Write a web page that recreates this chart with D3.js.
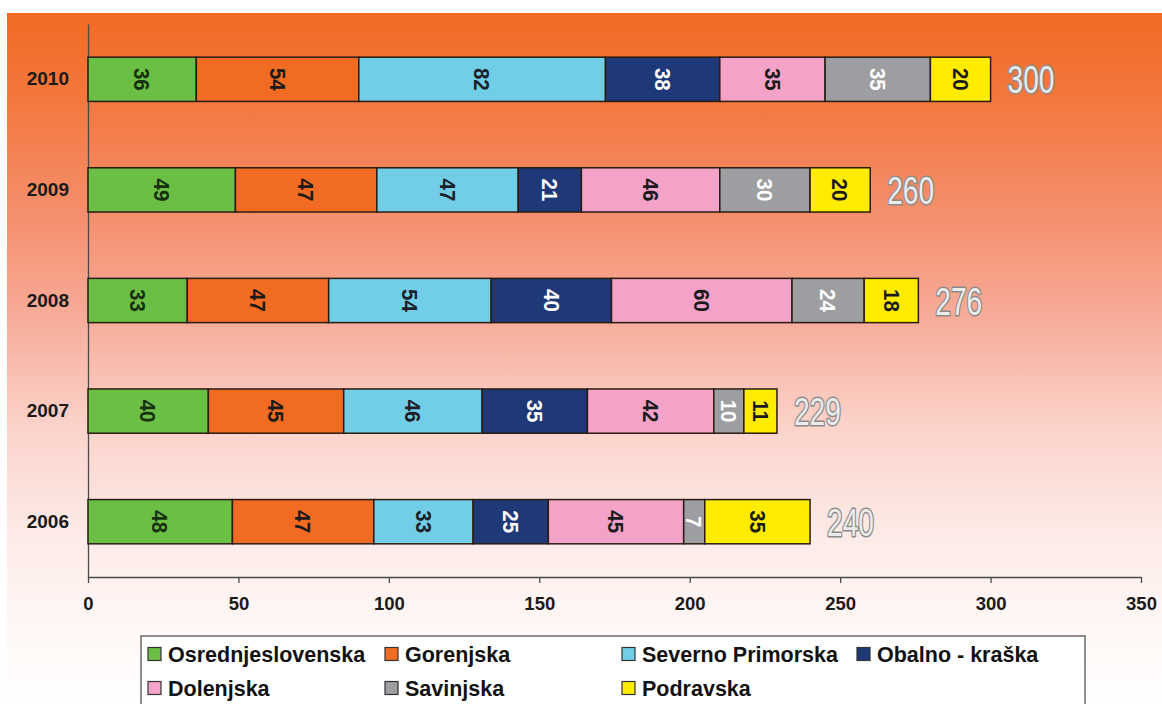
<!DOCTYPE html>
<html><head><meta charset="utf-8">
<script src="https://cdn.jsdelivr.net/npm/d3@7"></script>
<style>
html,body{margin:0;padding:0;background:#fff;}
svg{display:block;font-family:"Liberation Sans",Arial,sans-serif;}
</style></head>
<body><svg id="c" width="1162" height="704"></svg>
<script>
const years = ["2010","2009","2008","2007","2006"];
const regions = ["Osrednjeslovenska","Gorenjska","Severno Primorska","Obalno - kraška","Dolenjska","Savinjska","Podravska"];
const osrednjeslovenska = [36,49,33,40,48];
const gorenjska        = [54,47,47,45,47];
const severnoPrimorska = [82,47,54,46,33];
const obalnoKraska     = [38,21,40,35,25];
const dolenjska        = [35,46,60,42,45];
const savinjska        = [35,30,24,10,7];
const podravska        = [20,20,18,11,35];
const totals           = [300,260,276,229,240];
const xTicks = [0,50,100,150,200,250,300,350];

const seriesValues = [osrednjeslovenska,gorenjska,severnoPrimorska,obalnoKraska,dolenjska,savinjska,podravska];
const colors = ["#6cbf45","#f26b22","#72cde6","#1f3877","#f4a2c8","#9c9ea1","#ffec00"];
const labelColors = ["#17300f","#1a1a1a","#1a1f2a","#ffffff","#1a1a1a","#ffffff","#1a1a1a"];

const svg = d3.select("#c");
const defs = svg.append("defs");
const grad = defs.append("linearGradient").attr("id","bg").attr("x1",0).attr("y1",0).attr("x2",0).attr("y2",1);
[[0,"#f26a22"],[0.12,"#f3773d"],[0.3,"#f5906f"],[0.45,"#f7ae9c"],[0.6,"#fbd3cb"],[0.75,"#fdeae6"],[0.88,"#fff7f5"],[1,"#ffffff"]]
  .forEach(([o,c])=>grad.append("stop").attr("offset",o).attr("stop-color",c));

svg.append("rect").attr("x",7).attr("y",13).attr("width",1155).attr("height",691).attr("fill","url(#bg)");

const x = d3.scaleLinear().domain([0,350]).range([88,1141]);
const y = d3.scaleBand().domain(years).range([24,577]).paddingInner(0.6).paddingOuter(0.3);

const rows = years.map((yr,i)=>{
  const o = {year:yr};
  regions.forEach((r,j)=>o[r]=seriesValues[j][i]);
  return o;
});
const stack = d3.stack().keys(regions)(rows);

// axes
const xAxis = d3.axisBottom(x).tickValues(xTicks).tickSize(6).tickSizeOuter(0).tickFormat(d3.format("d"));
const gx = svg.append("g").attr("transform","translate(0,577)").call(xAxis);
gx.select(".domain").attr("stroke","#4a4a4a").attr("stroke-width",1.3);
gx.selectAll(".tick line").attr("stroke","#4a4a4a").attr("stroke-width",1.3);
gx.selectAll(".tick text").attr("fill","#1a1a1a").attr("font-size",18.5).attr("font-weight","bold").attr("dy","1.3em");

const yAxis = d3.axisLeft(y).tickSize(0).tickPadding(19);
const gy = svg.append("g").attr("transform","translate(88,0)").call(yAxis);
gy.select(".domain").attr("stroke","#4a4a4a").attr("stroke-width",1.3);
gy.selectAll(".tick text").attr("fill","#1a1a1a").attr("font-size",19).attr("font-weight","bold");

// bars
const layers = svg.append("g").selectAll("g").data(stack).join("g");
layers.each(function(layer,j){
  const g = d3.select(this);
  g.selectAll("rect").data(layer).join("rect")
    .attr("x",d=>x(d[0])).attr("width",d=>x(d[1])-x(d[0]))
    .attr("y",d=>y(d.data.year)).attr("height",y.bandwidth())
    .attr("fill",colors[j]).attr("stroke","#2a1c10").attr("stroke-width",1.5);
  g.selectAll("text").data(layer).join("text")
    .attr("transform",d=>`translate(${(x(d[0])+x(d[1]))/2},${y(d.data.year)+y.bandwidth()/2}) rotate(90) scale(1,1.05)`)
    .attr("text-anchor","middle").attr("dy","0.36em")
    .attr("font-size",20.5).attr("font-weight","bold")
    .attr("fill",labelColors[j])
    .text(d=>d[1]-d[0]);
});

// totals
svg.append("g").selectAll("text").data(years).join("text")
  .attr("transform",(d,i)=>`translate(${x(totals[i])+17},${y(d)+y.bandwidth()/2}) scale(0.72,1)`)
  .attr("dy","0.36em")
  .attr("font-size",39)
  .attr("fill","#ebebeb").attr("stroke","#8a8a8a").attr("stroke-width",3)
  .attr("paint-order","stroke").attr("stroke-linejoin","round")
  .text((d,i)=>totals[i]);

// legend
const lg = svg.append("g");
lg.append("rect").attr("x",141).attr("y",636).attr("width",944).attr("height",80)
  .attr("fill","#ffffff").attr("stroke","#555555").attr("stroke-width",1.3);
const colX = [148,385,622,857];
const rowY = [654,688];
regions.forEach((r,j)=>{
  const cx = colX[j%4], cy = rowY[Math.floor(j/4)];
  lg.append("rect").attr("x",cx).attr("y",cy-6.5).attr("width",13).attr("height",13)
    .attr("fill",colors[j]).attr("stroke","#333").attr("stroke-width",1.2);
  lg.append("text").attr("x",cx+20).attr("y",cy).attr("dy","0.36em")
    .attr("font-size",21.5).attr("font-weight","bold").attr("fill","#111").text(r);
});
</script></body></html>
